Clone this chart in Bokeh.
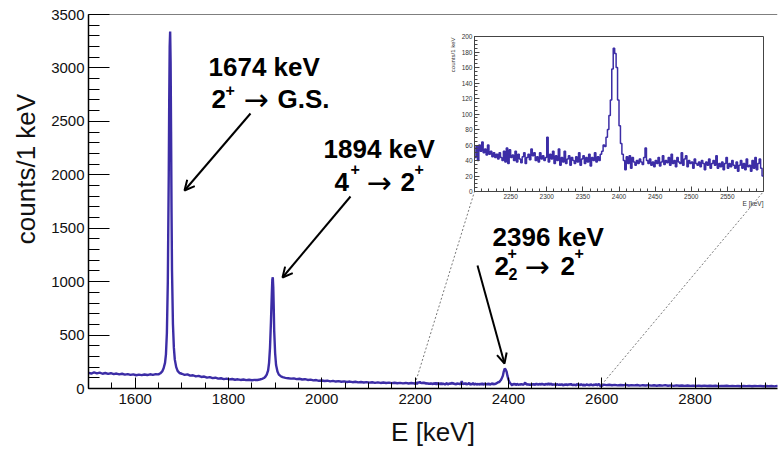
import math
from bokeh.plotting import figure
from bokeh.models import Range1d, Label, Arrow, OpenHead, Span, FixedTicker
from bokeh.layouts import column
from bokeh.embed import file_html
from bokeh.resources import INLINE

# ---------------- data ----------------
# main spectrum below the inset window (keV, counts per 1 keV)
low_energy = [1500, 1506, 1512, 1518, 1524, 1530, 1536, 1542, 1548, 1554, 1560, 1566, 1572, 1578,
              1584, 1590, 1596, 1602, 1608, 1614, 1620, 1626, 1632, 1638, 1644, 1650, 1654, 1658,
              1661, 1664, 1666, 1668, 1670, 1672, 1673, 1674, 1675, 1676, 1677, 1678, 1679, 1681,
              1683, 1685, 1688, 1691, 1695, 1700, 1706, 1712, 1718, 1724, 1730, 1736, 1742, 1748,
              1754, 1760, 1766, 1772, 1778, 1784, 1790, 1796, 1802, 1808, 1814, 1820, 1826, 1832,
              1838, 1844, 1850, 1856, 1862, 1867, 1872, 1876, 1879, 1882, 1885, 1887, 1889, 1891,
              1893, 1894, 1895, 1896, 1897, 1898, 1900, 1902, 1905, 1908, 1912, 1916, 1922, 1928,
              1934, 1940, 1946, 1952, 1958, 1964, 1970, 1976, 1982, 1988, 1994, 2000, 2006, 2012,
              2018, 2024, 2030, 2036, 2042, 2048, 2054, 2060, 2066, 2072, 2078, 2084, 2090, 2096,
              2102, 2108, 2114, 2120, 2126, 2132, 2138, 2144, 2150, 2156, 2162, 2168, 2174, 2180,
              2186, 2192, 2198]
low_counts = [146, 140, 150, 142, 148, 138, 145, 137, 143, 134, 140, 132, 138, 130,
              135, 127, 132, 124, 130, 125, 131, 126, 133, 128, 135, 132, 142, 160,
              190, 240, 320, 520, 1000, 2000, 2700, 3200, 3340, 3050, 2400, 1650, 1100, 600,
              380, 270, 200, 165, 145, 138, 128, 132, 120, 124, 114, 118, 108, 112,
              102, 106, 97, 101, 92, 96, 88, 92, 85, 89, 82, 86, 80, 84,
              78, 82, 77, 81, 80, 84, 90, 98, 110, 130, 170, 240, 380, 620,
              900, 1020, 1040, 950, 760, 540, 330, 220, 160, 130, 115, 106, 100, 96,
              92, 95, 88, 91, 84, 87, 80, 83, 76, 79, 72, 75, 70, 73,
              67, 71, 65, 69, 63, 67, 61, 65, 59, 63, 57, 61, 56, 60,
              55, 58, 53, 57, 52, 56, 51, 55, 50, 54, 49, 53, 48, 52,
              47, 51, 48]

# inset window 2200-2600 keV, 2 keV bins
inset_start = 2200
inset_bin_width = 2
inset_counts = [44, 58, 40, 60, 52, 64, 50, 55, 47, 60, 48, 52, 45, 50, 44, 48, 42, 50, 44, 40,
                52, 38, 56, 36, 54, 44, 47, 40, 52, 38, 48, 42, 37, 45, 50, 36, 44, 48, 41, 55,
                46, 50, 40, 45, 38, 50, 42, 46, 40, 44, 70, 38, 48, 42, 52, 36, 46, 40, 55, 34,
                44, 38, 52, 36, 42, 46, 34, 44, 40, 36, 45, 38, 50, 34, 42, 46, 36, 44, 38, 48,
                33, 44, 40, 50, 38, 45, 40, 48, 52, 60, 58, 70, 80, 98, 118, 158, 185, 178, 160, 118,
                85, 62, 48, 40, 28, 45, 36, 46, 30, 44, 38, 34, 40, 36, 42, 38, 35, 44, 56, 40,
                36, 42, 34, 38, 32, 40, 36, 44, 33, 38, 46, 35, 40, 37, 44, 34, 48, 36, 40, 32,
                44, 38, 36, 50, 34, 42, 46, 32, 40, 36, 38, 30, 42, 36, 34, 38, 32, 40, 36, 28,
                38, 34, 42, 30, 36, 40, 34, 46, 30, 36, 32, 38, 28, 36, 44, 30, 36, 32, 40, 34,
                30, 38, 26, 34, 40, 30, 36, 28, 42, 32, 34, 26, 40, 30, 44, 28, 36, 42, 30, 20]

# main spectrum above the inset window
high_energy = [2604, 2610, 2616, 2622, 2628, 2634, 2640, 2646, 2652, 2658, 2664, 2670, 2676, 2682,
               2688, 2694, 2700, 2706, 2712, 2718, 2724, 2730, 2736, 2742, 2748, 2754, 2760, 2766,
               2772, 2778, 2784, 2790, 2796, 2802, 2808, 2814, 2820, 2826, 2832, 2838, 2844, 2850,
               2856, 2862, 2868, 2874, 2880, 2886, 2892, 2898, 2904, 2910, 2916, 2922, 2928, 2934,
               2940, 2946, 2952, 2958, 2964, 2970, 2976, 2982]
high_counts = [36, 31, 35, 30, 34, 29, 33, 30, 34, 28, 32, 29, 33, 27,
               31, 28, 32, 27, 30, 26, 30, 27, 31, 26, 29, 25, 29, 26,
               28, 24, 28, 25, 27, 24, 27, 23, 27, 24, 26, 23, 26, 22,
               25, 23, 26, 22, 25, 22, 24, 21, 24, 22, 25, 21, 24, 22,
               23, 21, 24, 21, 23, 20, 23, 21]

main_xticks = [1600, 1800, 2000, 2200, 2400, 2600, 2800]
main_yticks = [0, 500, 1000, 1500, 2000, 2500, 3000, 3500]
inset_xticks = [2250, 2300, 2350, 2400, 2450, 2500, 2550]
inset_yticks = [0, 20, 40, 60, 80, 100, 120, 140, 160, 180, 200]

# ---------------- derived series ----------------
inset_energy = [inset_start + inset_bin_width * i for i in range(len(inset_counts))]
inset_end = inset_start + inset_bin_width * len(inset_counts)
energy = low_energy + inset_energy + high_energy
counts = low_counts + inset_counts + high_counts

BLUE = "#3c2da6"
FONT = "Liberation Sans"

# ---------------- geometry (page pixels, page has no margin) ----------------
W, H = 779, 449
ML, MR, MT, MB = 88, 2, 14, 61
KEV_PER_PX = 1481 / 691
FL, FR = ML, W - MR
FT, FB = MT, H - MB
XR = (1500, 1500 + (FR - FL) * KEV_PER_PX)
YR = (0, 3500)


def main_xy(px, py):
    x = XR[0] + (px - FL) * (XR[1] - XR[0]) / (FR - FL)
    y = YR[0] + (FB - py) * (YR[1] - YR[0]) / (FB - FT)
    return x, y


p = figure(width=W, height=H, x_range=Range1d(*XR), y_range=Range1d(*YR),
           output_backend="svg", toolbar_location=None,
           min_border_left=ML, min_border_right=MR, min_border_top=MT, min_border_bottom=MB,
           background_fill_color="white", border_fill_color="white",
           outline_line_color=None)
p.xgrid.visible = False
p.ygrid.visible = False

p.line(energy, counts, line_color=BLUE, line_width=2.4)

p.xaxis.ticker = FixedTicker(ticks=main_xticks,
                             minor_ticks=[v for v in range(1500, 2981, 50)])
p.yaxis.ticker = FixedTicker(ticks=main_yticks,
                             minor_ticks=[v for v in range(0, 3501, 100)])
p.xaxis.axis_label = "E [keV]"
# non-breaking spaces keep the title shifted toward the top end, as in the original
p.yaxis.axis_label = "\u00a0" * 9 + "counts/1 keV"
for ax in (p.xaxis[0], p.yaxis[0]):
    ax.axis_line_color = "black"
    ax.axis_line_width = 1.5
    ax.major_tick_line_color = "black"
    ax.minor_tick_line_color = "black"
    ax.major_tick_out = 0
    ax.minor_tick_out = 0
    ax.major_label_text_font = FONT
    ax.major_label_text_font_size = "15px"
    ax.major_label_text_color = "#111111"
    ax.axis_label_text_font = FONT
    ax.axis_label_text_font_size = "26px"
    ax.axis_label_text_font_style = "normal"
    ax.axis_label_text_color = "#111111"
p.xaxis.major_tick_in = 11
p.xaxis.minor_tick_in = 6
p.yaxis.major_tick_in = 21
p.yaxis.minor_tick_in = 11
p.xaxis.major_label_standoff = 5
p.yaxis.major_label_standoff = 4
p.xaxis.axis_label_standoff = 10
p.yaxis.axis_label_standoff = 7

p.add_layout(Span(location=YR[1], dimension="width", line_color="black", line_width=1.2))

# ---------------- inset geometry ----------------
# column layouts align frame borders, so the inset shares the main plot's left/right borders
I_FL, I_FR, I_FT, I_FB = 474, 763, 36, 191
ILEFT = I_FL - ML
IW = I_FR + MR - ILEFT
ITOP = I_FT - 8
IH = I_FB + 20 - ITOP

# connector lines from the main spectrum to the inset frame corners
cl = main_xy(I_FL, I_FB)
cr = main_xy(I_FR, I_FB)
p.segment(x0=[inset_start, inset_end],
          y0=[inset_counts[0], high_counts[0]],
          x1=[cl[0], cr[0]], y1=[cl[1], cr[1]],
          line_color="#555555", line_width=0.8, line_dash="2 2")


# ---------------- annotations ----------------
def lab(px, py, text, size, bold=True, font=FONT, color="black", align="left",
        baseline="alphabetic", angle=0.0):
    x, y = main_xy(px, py)
    p.add_layout(Label(x=x, y=y, text=text, text_font=font,
                       text_font_size=f"{size}px",
                       text_font_style="bold" if bold else "normal",
                       text_color=color, text_align=align,
                       text_baseline=baseline, angle=angle))


def arrow(p0, p1):
    x0, y0 = main_xy(*p0)
    x1, y1 = main_xy(*p1)
    p.add_layout(Arrow(x_start=x0, y_start=y0, x_end=x1, y_end=y1,
                       line_color="black", line_width=2,
                       end=OpenHead(size=10, line_width=2, line_color="black")))


ARROW_FONT = "DejaVu Sans"
lab(208, 66, "1674 keV", 26)
lab(211, 98, "2", 26)
lab(225, 89, "+", 16)
lab(243, 99, "\u2192", 30, bold=False, font=ARROW_FONT)
lab(277, 98, "G.S.", 26)

lab(323, 148, "1894 keV", 26)
lab(334, 181, "4", 26)
lab(350, 168, "+", 16)
lab(366, 182, "\u2192", 30, bold=False, font=ARROW_FONT)
lab(400, 181, "2", 26)
lab(414, 168, "+", 16)

lab(492, 236, "2396 keV", 26)
lab(494, 265, "2", 26)
lab(507, 252, "+", 16)
lab(508, 273, "2", 16)
lab(524, 266, "\u2192", 30, bold=False, font=ARROW_FONT)
lab(560, 265, "2", 26)
lab(574, 252, "+", 16)

arrow((250, 113), (184, 190))
arrow((350, 196), (282, 277))
arrow((477, 265), (504, 363))

# inset axis titles (drawn beneath the transparent inset)
lab(I_FR, 199, "E [keV]", 6.5, bold=False, color="#333333", align="right", baseline="top")
lab(I_FL - 22, I_FT + 1, "counts/1 keV", 6, bold=False, color="#333333",
    align="right", baseline="middle", angle=math.pi / 2)

# ---------------- inset figure ----------------
ins = figure(width=IW, height=IH,
             x_range=Range1d(inset_start, inset_end),
             y_range=Range1d(0, 200),
             output_backend="svg", toolbar_location=None,
             min_border_left=ML, min_border_right=MR, min_border_top=I_FT - ITOP,
             min_border_bottom=20,
             background_fill_color=None, border_fill_color=None,
             outline_line_color="#444444", outline_line_width=1)
ins.xgrid.visible = False
ins.ygrid.visible = False
ins.step(inset_energy + [inset_end], inset_counts + [inset_counts[-1]],
         mode="after", line_color=BLUE, line_width=1.5)
ins.xaxis.ticker = FixedTicker(ticks=inset_xticks,
                               minor_ticks=[v for v in range(2210, 2600, 10)])
ins.yaxis.ticker = FixedTicker(ticks=inset_yticks,
                               minor_ticks=[v for v in range(0, 201, 5)])
for ax in (ins.xaxis[0], ins.yaxis[0]):
    ax.axis_line_color = "#444444"
    ax.axis_line_width = 1
    ax.major_tick_line_color = "#444444"
    ax.minor_tick_line_color = "#444444"
    ax.major_tick_out = 0
    ax.minor_tick_out = 0
    ax.major_tick_in = 5
    ax.minor_tick_in = 3
    ax.major_label_text_font = FONT
    ax.major_label_text_font_size = "6.5px"
    ax.major_label_text_color = "#333333"
    ax.major_label_standoff = 2
ins.margin = (ITOP - H, 0, 0, ILEFT)

layout = column(p, ins)
open("out.html", "w").write(file_html(layout, INLINE))
